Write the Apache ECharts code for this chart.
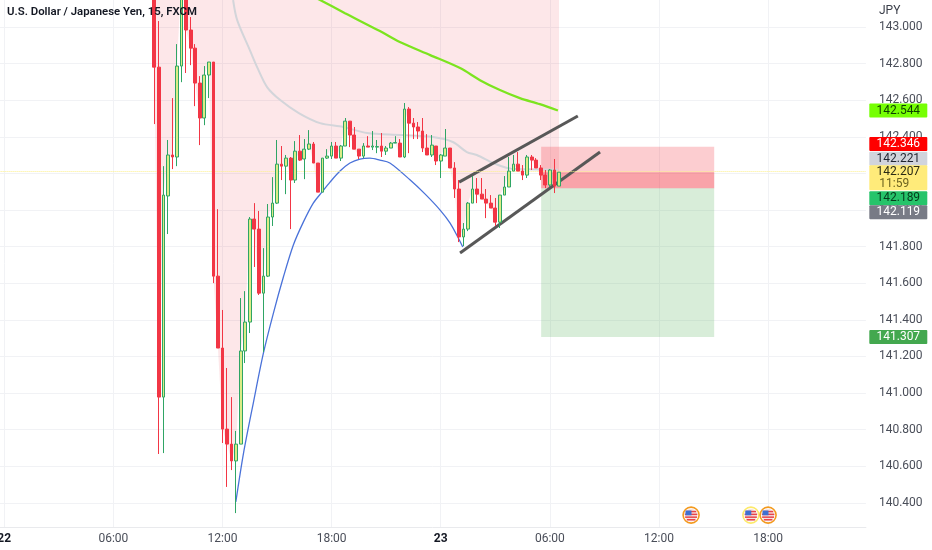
<!DOCTYPE html>
<html><head><meta charset="utf-8">
<style>html,body{margin:0;padding:0;background:#fff}#c{width:932px;height:550px}</style>
<script src="https://cdn.jsdelivr.net/npm/echarts@6/dist/echarts.min.js"></script>
</head><body><div id="c"></div>
<script>
const slotCount = 191, firstCandleSlot = 34;
const tickSlots = [1,25,49,73,97,121,145,169];
const tickLabels = ['22','06:00','12:00','18:00','23','06:00','12:00','18:00'];
const priceTicks = [140.4,140.6,140.8,141.0,141.2,141.4,141.6,141.8,142.0,142.2,142.4,142.6,142.8,143.0];
const opens = [143.40,142.781,140.978,142.077,142.301,142.290,142.787,143.30,142.984,142.885,142.694,142.503,142.738,142.809,141.639,141.246,140.803,140.721,140.629,140.721,141.230,141.388,141.951,141.896,141.546,141.639,141.962,142.038,142.251,142.240,142.284,142.164,142.322,142.279,142.333,142.361,142.257,142.098,142.284,142.295,142.350,142.284,142.350,142.486,142.410,142.333,142.295,142.350,142.344,142.344,142.350,142.322,142.339,142.366,142.366,142.290,142.552,142.475,142.454,142.432,142.339,142.301,142.350,142.268,142.295,142.339,142.230,142.115,141.853,141.896,142.038,142.115,142.087,142.060,142.038,142.011,141.934,142.082,142.126,142.213,142.251,142.213,142.191,142.290,142.273,142.230,142.191,142.137,142.219,142.131];
const closes = [142.781,140.978,142.082,142.301,142.290,142.787,143.30,142.984,142.885,142.694,142.503,142.738,142.809,141.639,141.246,140.803,140.721,140.629,140.721,141.230,141.388,141.951,141.896,141.546,141.639,141.962,142.038,142.251,142.240,142.284,142.164,142.322,142.273,142.333,142.361,142.257,142.098,142.284,142.295,142.350,142.284,142.350,142.486,142.410,142.333,142.295,142.350,142.344,142.350,142.347,142.322,142.339,142.366,142.369,142.290,142.552,142.475,142.454,142.432,142.339,142.301,142.355,142.268,142.301,142.339,142.230,142.115,141.853,141.896,142.038,142.115,142.087,142.060,142.038,142.011,141.934,142.082,142.126,142.213,142.251,142.213,142.191,142.290,142.273,142.230,142.191,142.137,142.219,142.131,142.207];
const lows = [142.470,140.667,140.672,141.869,142.224,142.240,142.699,142.749,142.792,142.568,142.355,142.464,142.612,141.601,141.246,140.727,140.487,140.579,140.344,140.721,141.164,141.328,141.689,141.536,141.224,141.634,141.913,142.033,142.164,142.087,141.896,142.148,142.268,142.169,142.328,142.257,142.098,142.098,142.279,142.279,142.284,142.268,142.350,142.344,142.333,142.279,142.284,142.344,142.328,142.311,142.290,142.301,142.339,142.366,142.290,142.284,142.311,142.388,142.388,142.317,142.301,142.290,142.246,142.175,142.295,142.230,142.066,141.825,141.803,141.885,142.038,142.038,142.060,141.956,142.011,141.913,141.902,142.082,142.126,142.213,142.213,142.164,142.175,142.219,142.230,142.164,142.120,142.126,142.093,142.131];
const highs = [143.50,143.033,142.240,142.383,142.612,142.907,143.45,143.40,143.055,142.907,142.732,142.787,142.809,142.809,142.005,141.454,141.137,140.978,140.793,141.519,141.557,141.962,142.038,141.995,141.792,142.033,142.180,142.383,142.350,142.301,142.290,142.377,142.410,142.388,142.437,142.372,142.257,142.284,142.333,142.372,142.372,142.355,142.503,142.486,142.454,142.333,142.366,142.404,142.432,142.383,142.421,142.350,142.372,142.404,142.388,142.585,142.563,142.503,142.481,142.503,142.415,142.410,142.350,142.306,142.443,142.339,142.262,142.164,141.929,142.044,142.186,142.175,142.175,142.115,142.082,142.066,142.082,142.186,142.290,142.301,142.317,142.246,142.301,142.301,142.284,142.246,142.219,142.224,142.279,142.207];
const emaLong = [[68.9,143.175],[71.1,143.148],[76.6,143.076],[84.3,142.978],[88.7,142.918],[95.4,142.847],[102,142.776],[106.4,142.710],[110.8,142.656],[115.2,142.612],[119.6,142.579],[123.6,142.544]];
const emaShort = [[51.9,143.148],[52.8,143.038],[55.6,142.874],[57.2,142.781],[59.4,142.672],[62.3,142.601],[66.4,142.530],[71.1,142.475],[76.2,142.454],[81.5,142.421],[88.7,142.410],[96,142.399],[100.4,142.372],[103.5,142.317],[105.7,142.301],[109.3,142.257],[112.4,142.230],[114.6,142.224],[123.6,142.221]];
const arcCurve = [[52.5,140.405],[54.2,140.672],[56.4,140.951],[58.6,141.219],[60.8,141.437],[63,141.634],[65.2,141.809],[67.4,141.934],[69.6,142.038],[71.5,142.098],[73.3,142.153],[75.5,142.213],[77.7,142.257],[79.9,142.279],[82.1,142.284],[84.3,142.273],[86.5,142.257],[91,142.164],[94.3,142.087],[97.6,142.000],[99.8,141.929],[101.5,141.853],[102.6,141.798]];
const channelUpper = [[101.8,142.153],[128,142.514]];
const channelLower = [[102,141.765],[132.9,142.317]];
const positionStart = 119.9, positionEnd = 158.1;
const stopPrice = 142.346, entryPrice = 142.119, targetPrice = 141.307, lastPrice = 142.207;
const tagPrices = [142.544,142.346,142.221,142.207,142.189,142.119,141.307];
const countdown = '11:59';
const eventSlots = [153,166.2,170];
const eventPrice = 140.333;

const title = 'U.S. Dollar / Japanese Yen, 15, FXCM';
const barAxisMin = -0.132, barAxisMax = 191.59;
const tagStyle = [
 {bg:'#76ff03',fg:'#0b3d00',dy:0},
 {bg:'#ff0000',fg:'#ffffff',dy:-2.7},
 {bg:'#d1d4dc',fg:'#1f2430',dy:-11},
 {bg:'#ffeb7a',fg:'#2a2a14',dy:0,extra:true},
 {bg:'#26c46a',fg:'#053b1c',dy:22.7},
 {bg:'#787b86',fg:'#ffffff',dy:24},
 {bg:'#43a84f',fg:'#ffffff',dy:0}
];
const eventRing = ['#f39a1e','#fde96a','#f39a1e'];
const font = 'Roboto';
const categories = Array.from({length:slotCount},(_,i)=>String(i));
const candleData = categories.map((c,s)=>{const i=s-firstCandleSlot;return i>=0&&i<opens.length?[opens[i],closes[i],lows[i],highs[i]]:['-','-','-','-'];});
const closeData = categories.map((c,s)=>{const i=s-firstCandleSlot;return i>=0&&i<closes.length?closes[i]:'-';});
const isTick = i => tickSlots.includes(i);

const chart = echarts.init(document.getElementById('c'),null,{renderer:'canvas'});
const gridLine = {color:'#f1f2f5',width:1};
function lineSeries(data,color,width,z,extra){
  return Object.assign({type:'line',xAxisIndex:1,yAxisIndex:0,data,showSymbol:false,silent:true,z,
    lineStyle:{color,width}},extra||{});
}
chart.setOption({
  animation:false,backgroundColor:'#fff',
  title:[
    {text:title,left:7,top:7,padding:0,textStyle:{fontFamily:font,fontSize:11.4,fontWeight:600,color:'#131722'},z:20},
    {text:'JPY',left:879,top:5,padding:0,textStyle:{fontFamily:font,fontSize:12,fontWeight:400,color:'#3a3e49'}}
  ],
  grid:{left:-2.6,top:0,width:868.5,height:527,containLabel:false,outerBoundsMode:'none'},
  xAxis:[
    {type:'category',data:categories,boundaryGap:true,
      axisLine:{show:true,lineStyle:{color:'#e9eaed',width:1}},axisTick:{show:false,interval:i=>isTick(i),alignWithLabel:true},
      splitLine:{show:true,interval:i=>isTick(i),alignWithLabel:true,lineStyle:gridLine},
      axisLabel:{interval:i=>isTick(i),margin:6,hideOverlap:false,fontFamily:font,fontSize:12,color:'#4a4e59',
        formatter:(v,i)=>{const t=tickLabels[tickSlots.indexOf(i)]||'';return (t==='22'||t==='23')?'{b|'+t+'}':t;},
        rich:{b:{fontFamily:font,fontSize:12,fontWeight:'bold',color:'#131722'}}}},
    {type:'value',min:barAxisMin,max:barAxisMax,show:false,splitLine:{show:false}}
  ],
  yAxis:[{type:'value',position:'right',min:140.268,max:143.148,
    axisLine:{show:false},
    axisTick:{show:false,customValues:priceTicks},
    splitLine:{show:true,lineStyle:gridLine},
    axisLabel:{customValues:priceTicks,margin:13,fontFamily:font,fontSize:12,color:'#4a4e59',formatter:v=>v.toFixed(3)}}],
  series:[
    {type:'line',data:closeData,showSymbol:false,silent:true,z:1,lineStyle:{width:0},connectNulls:false,
      areaStyle:{origin:'end',color:'rgba(242,54,69,0.17)'},
      markLine:{silent:true,symbol:'none',label:{show:false},
        lineStyle:{color:'#fdf08a',width:1,type:'dotted'},data:[{yAxis:lastPrice}]}},
    lineSeries(emaShort,'#d3d5da',2,2,{smooth:0.3}),
    lineSeries(emaLong,'#7ce41f',2.3,2,{smooth:0.3}),
    lineSeries(arcCurve,'#4a72d9',1.3,2,{smooth:0.3}),
    lineSeries(channelUpper,'#585858',3,3),
    lineSeries(channelLower,'#585858',3,3),
    lineSeries([[positionStart,stopPrice]],'#000',0,4,{symbol:'none',markArea:{silent:true,data:[
      [{xAxis:positionStart,yAxis:stopPrice,itemStyle:{color:'rgba(242,54,69,0.25)'}},{xAxis:positionEnd,yAxis:entryPrice}],
      [{xAxis:positionStart,yAxis:lastPrice,itemStyle:{color:'rgba(242,54,69,0.28)'}},{xAxis:positionEnd,yAxis:entryPrice}],
      [{xAxis:positionStart,yAxis:entryPrice,itemStyle:{color:'rgba(76,175,80,0.22)'}},{xAxis:positionEnd,yAxis:targetPrice}]
    ]}}),
    {type:'candlestick',data:candleData,barWidth:3.2,z:5,silent:true,
      itemStyle:{color:'#dcec86',color0:'#f23645',borderColor:'#2fa565',borderColor0:'#f23645',borderWidth:1}},
    {type:'custom',xAxisIndex:1,yAxisIndex:0,z:6,silent:true,clip:false,
      data:eventSlots.map(s=>[s,eventPrice]),
      renderItem:(p,api)=>{
        const c=api.coord([api.value(0),api.value(1)]),R=8,r=6.3,ring=eventRing[p.dataIndex];
        const stripes=[-3.6,-0.8,2,4.6].map((d,i)=>({type:'rect',shape:{x:c[0]-Math.sqrt(r*r-d*d),y:c[1]+d-0.7,width:2*Math.sqrt(r*r-d*d),height:1.5},style:{fill:'#e8454a'}}));
        return {type:'group',children:[
          {type:'circle',shape:{cx:c[0],cy:c[1],r:R},style:{fill:'#fff',stroke:ring,lineWidth:1.6}},
          {type:'circle',shape:{cx:c[0],cy:c[1],r:r},style:{fill:'#f4e3e3'}},
          ...stripes,
          {type:'rect',shape:{x:c[0]-5.6,y:c[1]-4.6,width:6,height:4.8},style:{fill:'#3f6fd1'}}
        ]};
      }},
    {type:'custom',xAxisIndex:1,yAxisIndex:0,z:30,silent:true,clip:false,
      data:tagPrices.map(v=>[barAxisMax,v]),
      renderItem:(p,api)=>{
        const s=tagStyle[p.dataIndex],c=api.coord([api.value(0),api.value(1)]);
        const x=c[0]+3.4,w=58,h=14,cy=c[1]+s.dy,top=cy-h/2;
        const kids=[
          {type:'rect',shape:{x,y:top,width:w,height:s.extra?25:h,r:1},style:{fill:s.bg}},
          {type:'text',x:x+29,y:cy,style:{text:api.value(1).toFixed(3),fill:s.fg,font:'12px '+font,textAlign:'center',textVerticalAlign:'middle'}}
        ];
        if(s.extra)kids.push({type:'text',x:x+10,y:cy+12,style:{text:countdown,fill:'#6d6320',font:'12px '+font,textAlign:'left',textVerticalAlign:'middle'}});
        return {type:'group',children:kids};
      }}
  ]
});
</script></body></html>
